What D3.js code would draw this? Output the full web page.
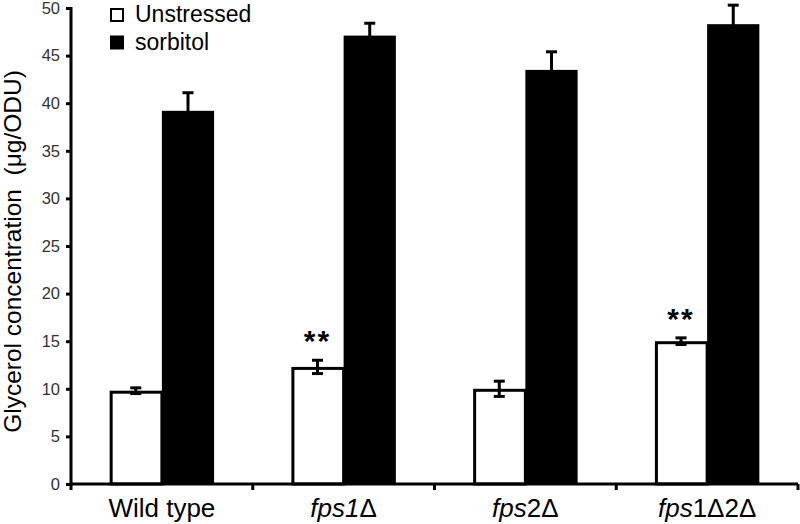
<!DOCTYPE html>
<html><head><meta charset="utf-8">
<script src="https://cdn.jsdelivr.net/npm/d3@7"></script>
<style>body{margin:0;background:#fff}svg{display:block;font-family:Arial,"Liberation Sans",sans-serif}</style>
</head><body><svg id="c" width="800" height="524"></svg>
<script>
const categories = ["Wild type","fps1Δ","fps2Δ","fps1Δ2Δ"];
const series = ["Unstressed","sorbitol"];
const unstressed = [9.8, 12.3, 10.0, 15.0];
const unstressedErr = [0.3, 0.7, 0.8, 0.35];
const sorbitol = [39.2, 47.1, 43.5, 48.3];
const sorbitolErr = [1.9, 1.3, 1.9, 2.0];
const significant = [false, true, false, true];
const yTicks = [0,5,10,15,20,25,30,35,40,45,50];

const svg = d3.select("#c");
const L = 71, R = 798, T = 8, B = 484;
const y = d3.scaleLinear().domain([0,50]).range([B,T]);
const x0 = d3.scaleBand().domain(categories).range([L,R]).paddingInner(0).paddingOuter(0);
const x1 = d3.scaleBand().domain(series).range([0,x0.bandwidth()]).paddingInner(0).paddingOuter(0.74);
const fills = {"Unstressed":"#fff","sorbitol":"#000"};

const data = categories.map((c,i)=>({c, sig:significant[i], vals:[
  {s:"Unstressed", v:unstressed[i], e:unstressedErr[i]},
  {s:"sorbitol", v:sorbitol[i], e:sorbitolErr[i]}]}));

const g = svg.append("g");
const grp = g.selectAll("g.cat").data(data).join("g").attr("transform",d=>`translate(${x0(d.c)},0)`);
grp.selectAll("rect").data(d=>d.vals).join("rect")
  .attr("x",d=>x1(d.s)+ (d.s==="Unstressed"?1.5:0))
  .attr("width",d=>x1.bandwidth()-(d.s==="Unstressed"?1.5:0))
  .attr("y",d=>y(d.v)+(d.s==="Unstressed"?1.5:0))
  .attr("height",d=>B-y(d.v)-(d.s==="Unstressed"?1.5:0))
  .attr("fill",d=>fills[d.s]).attr("stroke","#000").attr("stroke-width",d=>d.s==="Unstressed"?3:0);
// error bars
grp.selectAll("g.err").data(d=>d.vals).join("g").each(function(d){
  const cx = x1(d.s)+x1.bandwidth()/2;
  const s = d3.select(this);
  s.append("line").attr("x1",cx).attr("x2",cx).attr("y1",y(d.v+d.e)).attr("y2",y(d.v-d.e)).attr("stroke","#000").attr("stroke-width",3);
  [d.v+d.e,d.v-d.e].forEach(v=>s.append("line").attr("x1",cx-5.5).attr("x2",cx+5.5).attr("y1",y(v)).attr("y2",y(v)).attr("stroke","#000").attr("stroke-width",3));
});
// significance stars
grp.filter(d=>d.sig).append("text")
  .attr("x",d=>x1("Unstressed")+x1.bandwidth()/2)
  .attr("y",d=>y(d.vals[0].v+d.vals[0].e)-9)
  .attr("text-anchor","middle").attr("font-size",30).attr("font-weight","bold").attr("letter-spacing",2).text("**");

// y axis
const yAxis = d3.axisLeft(y).tickValues(yTicks).tickSize(5).tickPadding(6).tickFormat(d3.format("d"));
const ya = svg.append("g").attr("transform",`translate(${L},0)`).call(yAxis);
ya.select(".domain").attr("stroke","#000").attr("stroke-width",3).attr("d",`M0,${T-1}V${B+1.5}`);
ya.selectAll(".tick line").attr("stroke","#000").attr("stroke-width",3);
ya.selectAll(".tick text").attr("font-size",16.5).attr("fill","#333").attr("font-family","Arial, 'Liberation Sans', sans-serif");

// x axis
const xa = svg.append("g").attr("transform",`translate(0,${B})`);
xa.append("line").attr("x1",L-1.5).attr("x2",R).attr("y1",0).attr("y2",0).attr("stroke","#000").attr("stroke-width",3);
xa.selectAll("line.tk").data(categories).join("line").attr("class","tk")
  .attr("x1",d=>x0(d)+x0.bandwidth()).attr("x2",d=>x0(d)+x0.bandwidth()).attr("y1",0).attr("y2",6).attr("stroke","#000").attr("stroke-width",3);
xa.append("line").attr("x1",L).attr("x2",L).attr("y1",0).attr("y2",6).attr("stroke","#000").attr("stroke-width",3);
const lab = xa.selectAll("text").data(categories).join("text")
  .attr("x",d=>x0(d)+x0.bandwidth()/2).attr("y",33).attr("text-anchor","middle").attr("font-size",26).attr("fill","#000");
lab.each(function(d){
  const t = d3.select(this);
  if(d==="Wild type"){t.text(d);return;}
  if(d==="fps1Δ"){t.append("tspan").attr("font-style","italic").text("fps1");t.append("tspan").text("Δ");}
  if(d==="fps2Δ"){t.append("tspan").attr("font-style","italic").text("fps");t.append("tspan").text("2Δ");}
  if(d==="fps1Δ2Δ"){t.append("tspan").attr("font-style","italic").text("fps");t.append("tspan").text("1Δ2Δ");}
});

// y label
svg.append("text").attr("transform",`translate(21,251.5) rotate(-90)`).attr("text-anchor","middle")
  .attr("font-size",24.5).attr("fill","#000").attr("xml:space","preserve").text("Glycerol concentration  (μg/ODU)");

// legend
const lg = svg.append("g");
series.forEach((s,i)=>{
  lg.append("rect").attr("x",111).attr("y",9+i*27.5).attr("width",12).attr("height",12)
    .attr("fill",fills[s]).attr("stroke","#000").attr("stroke-width",2);
  lg.append("text").attr("x",135).attr("y",22+i*27.5).attr("font-size",23).attr("fill","#000").text(s);
});
</script></body></html>
